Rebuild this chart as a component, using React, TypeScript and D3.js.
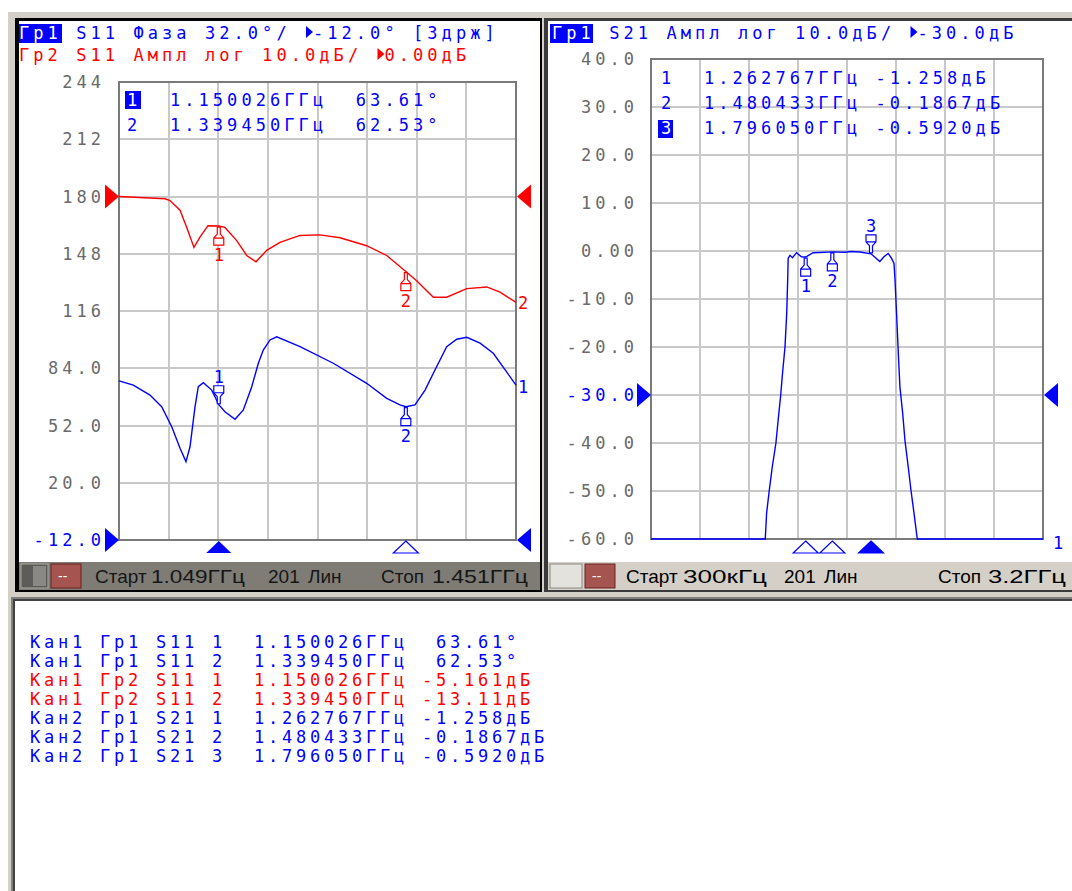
import React from 'react';
import * as d3 from 'd3';

// ---------- DATA ----------
// Channel 1 (S11), 1.049 .. 1.451 GHz
const s11PhaseFreq = [1.049, 1.0635, 1.0804, 1.0922, 1.1024, 1.1108, 1.1168, 1.1209, 1.126, 1.1293, 1.1344, 1.1429, 1.150026, 1.1563, 1.1665, 1.1749, 1.1834, 1.1901, 1.1951, 1.2019, 1.2087, 1.2323, 1.266, 1.2998, 1.3201, 1.3335, 1.33945, 1.3487, 1.3589, 1.3673, 1.3808, 1.391, 1.4011, 1.4146, 1.428, 1.451];
const s11PhaseDeg = [76.9, 74.6, 69.0, 62.5, 51.3, 39.3, 31.8, 40.1, 62.5, 73.7, 75.9, 71.8, 63.61, 59.7, 55.5, 60.7, 73.7, 86.8, 94.2, 99.8, 101.6, 96.1, 86.8, 75.6, 67.2, 63.5, 62.53, 63.5, 71.8, 81.2, 96.1, 100.2, 101.3, 98.0, 92.4, 74.6];
const s11AmpFreq = [1.049, 1.0956, 1.1006, 1.1108, 1.1176, 1.1249, 1.131, 1.1391, 1.150026, 1.1563, 1.1682, 1.1783, 1.1877, 1.1986, 1.212, 1.2323, 1.2525, 1.2728, 1.2998, 1.3201, 1.33945, 1.3504, 1.3673, 1.3808, 1.4011, 1.4213, 1.4348, 1.451];
const s11AmpDb = [0, -0.4, -0.7, -2.4, -5.4, -8.9, -7.1, -5.1, -5.161, -5.4, -7.7, -10.3, -11.4, -9.4, -8.0, -6.8, -6.7, -7.2, -8.6, -10.3, -13.11, -14.7, -17.6, -17.6, -16.1, -15.8, -16.7, -18.5];
const s11MarkerFreq = [1.150026, 1.33945];
const s11MarkerDeg = [63.61, 62.53];
const s11MarkerDb = [-5.161, -13.11];
const leftTicks = ['244', '212', '180', '148', '116', '84.0', '52.0', '20.0', '-12.0'];

// Channel 2 (S21), 300 kHz .. 3.2 GHz
const s21Freq = [0.0003, 0.933, 0.944, 0.966, 0.99, 1.02, 1.039, 1.059, 1.072, 1.094, 1.108, 1.116, 1.12, 1.135, 1.155, 1.188, 1.228, 1.262767, 1.324, 1.379, 1.480433, 1.584, 1.633, 1.706, 1.79605, 1.868, 1.902, 1.936, 1.963, 1.984, 1.992, 2.006, 2.019, 2.032, 2.055, 2.073, 2.1, 2.122, 2.147, 2.174, 3.2];
const s21Db = [-60, -60, -54.6, -49.8, -45, -40, -35, -30, -26, -20, -13, -6, -1.5, -0.9, -1.4, -0.35, -1.2, -1.258, -0.35, -0.3, -0.1867, -0.25, -0.1, -0.2, -0.592, -2.2, -1.2, -0.5, -1.5, -2.6, -6, -13.7, -21.3, -28.3, -33.9, -39.4, -45, -49.8, -54.6, -60, -60];
const s21MarkerFreq = [1.262767, 1.480433, 1.79605];
const s21MarkerDb = [-1.258, -0.1867, -0.592];
const rightTicks = ['40.0', '30.0', '20.0', '10.0', '0.00', '-10.0', '-20.0', '-30.0', '-40.0', '-50.0', '-60.0'];

const listRows = [
  'Кан1 Гр1 S11 1  1.150026ГГц  63.61°',
  'Кан1 Гр1 S11 2  1.339450ГГц  62.53°',
  'Кан1 Гр2 S11 1  1.150026ГГц -5.161дБ',
  'Кан1 Гр2 S11 2  1.339450ГГц -13.11дБ',
  'Кан2 Гр1 S21 1  1.262767ГГц -1.258дБ',
  'Кан2 Гр1 S21 2  1.480433ГГц -0.1867дБ',
  'Кан2 Гр1 S21 3  1.796050ГГц -0.5920дБ',
];
const listColors = ['blue', 'blue', 'red', 'red', 'blue', 'blue', 'blue'];

// ---------- STYLE ----------
const ADV = 14.3;
const MONO = "'DejaVu Sans Mono', monospace";
const NARROW = "'Liberation Sans', Arial, sans-serif";
const BLUE = '#0000ff';
const RED = '#ff0000';
const TICK = '#6a6a6a';
const GRID = '#c8c8c8';
const FRAME = '#7a7a7a';

function Mono({ s, x, y, fill, size = 17, adv = ADV, end = false }: any) {
  const chars = Array.from(s as string);
  let x0 = x;
  if (end) x0 = x - (chars.length - 1) * adv - size * 0.6;
  const pos: number[] = [];
  const tris: number[] = [];
  let cx = x0;
  chars.forEach((c) => {
    pos.push(cx);
    if (c === '▶') { tris.push(cx); cx += adv * 0.55; } else cx += adv;
  });
  const keep = chars.map((c, i) => ({ c, p: pos[i] })).filter((d) => d.c !== ' ' && d.c !== '▶');
  return (
    <g>
      <text x={keep.map((d) => d.p.toFixed(1)).join(' ')} y={y} fill={fill} fontFamily={MONO} fontSize={size}>
        {keep.map((d) => d.c).join('')}
      </text>
      {tris.map((t, i) => (
        <path key={i} d={`M${t + 1},${y - 13}L${t + 8},${y - 7}L${t + 1},${y - 1}Z`} fill={fill} />
      ))}
    </g>
  );
}

function markerBelow(x: number, y: number) {
  return `M${x - 1.5},${y + 1}V${y + 8}L${x - 5},${y + 12}V${y + 19}H${x + 5}V${y + 12}L${x + 1.5},${y + 8}V${y + 1}Z M${x - 5},${y + 12}H${x + 5}`;
}
function markerAbove(x: number, y: number) {
  return `M${x - 1.5},${y - 1}V${y - 8}L${x - 5},${y - 12}V${y - 19}H${x + 5}V${y - 12}L${x + 1.5},${y - 8}V${y - 1}Z M${x - 5},${y - 12}H${x + 5}`;
}

function Grid({ x, y, nx, ny }: any) {
  const [x0, x1] = x.range();
  const [y0, y1] = y.range();
  const xs = d3.range(nx + 1).map((i) => x0 + ((x1 - x0) * i) / nx);
  const ys = d3.range(ny + 1).map((i) => y1 + ((y0 - y1) * i) / ny);
  return (
    <g shapeRendering="crispEdges">
      {xs.slice(1, -1).map((v, i) => <line key={'x' + i} x1={v} x2={v} y1={y1} y2={y0} stroke={GRID} strokeWidth={2} />)}
      {ys.slice(1, -1).map((v, i) => <line key={'y' + i} x1={x0} x2={x1} y1={v} y2={v} stroke={GRID} strokeWidth={2} />)}
      <rect x={x0} y={y1} width={x1 - x0} height={y0 - y1} fill="none" stroke={FRAME} strokeWidth={2} />
    </g>
  );
}

const triR = (x: number, y: number) => `M${x},${y - 12}L${x + 14},${y}L${x},${y + 12}Z`;
const triL = (x: number, y: number) => `M${x},${y - 12}L${x - 14},${y}L${x},${y + 12}Z`;
const triUp = (x: number, y: number) => `M${x},${y}L${x + 12.5},${y + 12}L${x - 12.5},${y + 12}Z`;

function Status({ items, fill }: any) {
  return (
    <g fontFamily={NARROW} fontSize={19} fill={fill}>
      {items.map((d: any, i: number) => (
        d[2] ? (
          <text key={i} x={d[0]} y={583} textLength={d[2]} lengthAdjust="spacingAndGlyphs">{d[1]}</text>
        ) : (
          <text key={i} x={d[0]} y={583}>{d[1]}</text>
        )
      ))}
    </g>
  );
}

export default function App() {
  // left
  const xL = d3.scaleLinear().domain([1.049, 1.451]).range([119, 516]);
  const yPh = d3.scaleLinear().domain([-12, 244]).range([540, 82]);
  const yAmp = d3.scaleLinear().domain([-60, 20]).range([540, 82]);
  const phLine = d3.line<number>().x((_, i) => xL(s11PhaseFreq[i])).y((d) => yPh(d));
  const ampLine = d3.line<number>().x((_, i) => xL(s11AmpFreq[i])).y((d) => yAmp(d));
  // right
  const xR = d3.scaleLinear().domain([0.0003, 3.2]).range([651, 1043]);
  const yR = d3.scaleLinear().domain([-60, 40]).range([539, 59]);
  const s21Line = d3.line<number>().x((_, i) => xR(s21Freq[i])).y((d) => yR(d));

  return (
    <div style={{ position: 'absolute', left: 0, top: 0 }}>
      <svg width={1072} height={891} style={{ display: 'block' }}>
        <rect x={0} y={0} width={1072} height={891} fill="#ffffff" />
        <rect x={8} y={11} width={1064} height={880} fill="#d4d0c8" />
        <line x1={8} x2={1072} y1={11.5} y2={11.5} stroke="#ffffff" />
        {/* left panel */}
        <rect x={15} y={18} width={527} height={574} fill="#000" />
        <rect x={19} y={21} width={521} height={541} fill="#fff" />
        <rect x={19} y={562} width={521} height={28} fill="#7f7c76" />
        {/* right panel */}
        <rect x={544} y={18} width={528} height={574} fill="#3a3a3a" />
        <rect x={548} y={21} width={524} height={541} fill="#fff" />
        <rect x={548} y={562} width={524} height={28} fill="#d4d0c8" />
        {/* list */}
        <rect x={11} y={597} width={1061} height={294} fill="#808080" />
        <rect x={13} y={599} width={1059} height={292} fill="#404040" />
        <rect x={15} y={601} width={1057} height={290} fill="#fff" />

        {/* ===== LEFT CHART ===== */}
        <Grid x={xL} y={yPh} nx={8} ny={8} />
        {leftTicks.map((t, i) => (
          <Mono key={t} s={t} x={101} y={yPh(244 - i * 32) + 6} fill={i === 8 ? BLUE : TICK} end />
        ))}
        <path d={ampLine(s11AmpDb) || ''} fill="none" stroke={RED} strokeWidth={1.4} />
        <path d={phLine(s11PhaseDeg) || ''} fill="none" stroke={BLUE} strokeWidth={1.4} />
        {/* reference arrows */}
        <path d={triR(105, yAmp(0))} fill={RED} />
        <path d={triL(531, yAmp(0))} fill={RED} />
        <path d={triR(105, yPh(-12))} fill={BLUE} />
        <path d={triL(531, yPh(-12))} fill={BLUE} />
        {/* markers red (below) */}
        {s11MarkerFreq.map((f, i) => (
          <g key={'rm' + i}>
            <path d={markerBelow(xL(f), yAmp(s11MarkerDb[i]))} fill="#fff" stroke={RED} strokeWidth={1.2} />
            <Mono s={String(i + 1)} x={xL(f) - 5} y={yAmp(s11MarkerDb[i]) + 35} fill={RED} />
          </g>
        ))}
        {/* markers blue: 1 above, 2 below */}
        <path d={markerAbove(xL(s11MarkerFreq[0]), yPh(s11MarkerDeg[0]))} fill="#fff" stroke={BLUE} strokeWidth={1.2} />
        <Mono s="1" x={xL(s11MarkerFreq[0]) - 5} y={yPh(s11MarkerDeg[0]) - 22} fill={BLUE} />
        <path d={markerBelow(xL(s11MarkerFreq[1]), yPh(s11MarkerDeg[1]))} fill="#fff" stroke={BLUE} strokeWidth={1.2} />
        <Mono s="2" x={xL(s11MarkerFreq[1]) - 5} y={yPh(s11MarkerDeg[1]) + 35} fill={BLUE} />
        {/* trace end labels */}
        <Mono s="2" x={518} y={yAmp(s11AmpDb[s11AmpDb.length - 1]) + 7} fill={RED} />
        <Mono s="1" x={518} y={yPh(s11PhaseDeg[s11PhaseDeg.length - 1]) + 8} fill={BLUE} />
        {/* stimulus markers */}
        <path d={triUp(xL(s11MarkerFreq[0]), 541)} fill={BLUE} />
        <path d={triUp(xL(s11MarkerFreq[1]), 541)} fill="#fff" stroke={BLUE} strokeWidth={1.2} />
        {/* header */}
        <rect x={19} y={24} width={43} height={19} fill={BLUE} />
        <Mono s="Гр1" x={19} y={39} fill="#fff" />
        <Mono s="    S11 Фаза 32.0°/ ▶-12.0° [Здрж]" x={19} y={39} fill={BLUE} />
        <Mono s="Гр2 S11 Ампл лог 10.0дБ/ ▶0.00дБ" x={19} y={61} fill={RED} />
        {/* marker table */}
        <rect x={125} y={91} width={16} height={18} fill={BLUE} />
        <Mono s="1" x={127} y={106} fill="#fff" />
        <Mono s={`   ${s11MarkerFreq[0].toFixed(6)}ГГц  ${s11MarkerDeg[0].toFixed(2)}°`} x={127} y={106} fill={BLUE} />
        <Mono s={`2  ${s11MarkerFreq[1].toFixed(6)}ГГц  ${s11MarkerDeg[1].toFixed(2)}°`} x={127} y={131} fill={BLUE} />
        {/* status bar */}
        <rect x={21} y={564} width={27} height={24} fill="#5e5c58" stroke="#a8a6a0" />
        <rect x={33} y={566} width={13} height={20} fill="#8a8884" />
        <rect x={51} y={564} width={30} height={24} fill="#a55450" stroke="#6a2020" />
        <text x={58} y={581} fill="#fff" fontFamily={NARROW} fontSize={14}>--</text>
        <Status fill="#161616" items={[[95, 'Старт', 0], [151, '1.049ГГц', 94], [268, '201', 0], [308, 'Лин', 0], [381, 'Стоп', 0], [432, '1.451ГГц', 96]]} />

        {/* ===== RIGHT CHART ===== */}
        <Grid x={xR} y={yR} nx={8} ny={10} />
        {rightTicks.map((t, i) => (
          <Mono key={t} s={t} x={634} y={yR(40 - i * 10) + 6} fill={i === 7 ? BLUE : TICK} end />
        ))}
        <path d={s21Line(s21Db) || ''} fill="none" stroke={BLUE} strokeWidth={1.4} />
        <path d={triR(637, yR(-30))} fill={BLUE} />
        <path d={triL(1058, yR(-30))} fill={BLUE} />
        {s21MarkerFreq.map((f, i) => {
          const x = xR(f);
          const y = yR(s21MarkerDb[i]);
          const above = i === 2;
          return (
            <g key={'sm' + i}>
              <path d={above ? markerAbove(x, y) : markerBelow(x, y)} fill="#fff" stroke={BLUE} strokeWidth={1.2} />
              <Mono s={String(i + 1)} x={x - 5} y={above ? y - 22 : y + 35} fill={BLUE} />
              <path d={triUp(x, 541)} fill={above ? BLUE : '#fff'} stroke={BLUE} strokeWidth={1.2} />
            </g>
          );
        })}
        <Mono s="1" x={1053} y={549} fill={BLUE} />
        <rect x={550} y={24} width={43} height={19} fill={BLUE} />
        <Mono s="Гр1" x={552} y={39} fill="#fff" />
        <Mono s="    S21 Ампл лог 10.0дБ/ ▶-30.0дБ" x={552} y={39} fill={BLUE} />
        {s21MarkerFreq.slice(0, 2).map((f, i) => (
          <Mono key={'rt' + i} s={`${i + 1}  ${f.toFixed(6)}ГГц ${s21MarkerDb[i].toFixed(i === 0 ? 3 : 4)}дБ`} x={661} y={84 + i * 25} fill={BLUE} />
        ))}
        <rect x={658} y={120} width={15} height={18} fill={BLUE} />
        <Mono s="3" x={661} y={134} fill="#fff" />
        <Mono s={`   ${s21MarkerFreq[2].toFixed(6)}ГГц ${s21MarkerDb[2].toFixed(4)}дБ`} x={661} y={134} fill={BLUE} />
        {/* status bar right */}
        <rect x={550} y={564} width={32} height={24} fill="#e4e2dc" stroke="#8a8884" />
        <rect x={585} y={564} width={30} height={24} fill="#a55450" stroke="#6a2020" />
        <text x={592} y={581} fill="#fff" fontFamily={NARROW} fontSize={14}>--</text>
        <Status fill="#000" items={[[626, 'Старт', 0], [683, '300кГц', 84], [784, '201', 0], [824, 'Лин', 0], [938, 'Стоп', 0], [988, '3.2ГГц', 78]]} />

        {/* ===== LIST ===== */}
        {listRows.map((r, i) => (
          <Mono key={'l' + i} s={r} x={30} y={648 + i * 19} adv={14.0} fill={listColors[i] === 'red' ? RED : BLUE} />
        ))}
      </svg>
    </div>
  );
}
